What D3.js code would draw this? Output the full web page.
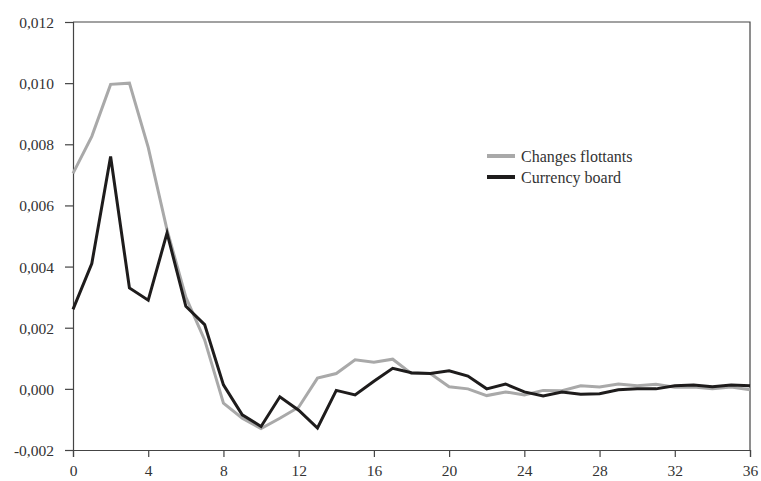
<!DOCTYPE html>
<html>
<head>
<meta charset="utf-8">
<script src="https://cdn.jsdelivr.net/npm/d3@7"></script>
<style>
  body { margin: 0; background: #fff; }
  text { font-family: "Liberation Serif", "DejaVu Serif", serif; font-size: 16px; fill: #333; }
</style>
</head>
<body>
<div id="svgContainer"></div>
<script>
// horizon (months) and responses
const horizon = d3.range(0, 37);
const flottants = [0.00705, 0.00826, 0.00996, 0.01, 0.0079, 0.0052, 0.0030, 0.0016, -0.00047, -0.00096,
    -0.0013, -0.00096, -0.0006, 0.00035, 0.0005, 0.00095, 0.00087, 0.00097, 0.0005, 0.0005,
    0.00007, 0.0, -0.00022, -0.0001, -0.0002, -0.00005, -0.00006, 0.0001, 0.00006, 0.00016,
    0.0001, 0.00015, 0.00005, 0.00006, 0.0, 0.00006, -0.00003];
const currencyBoard = [0.0026, 0.0041, 0.0076, 0.0033, 0.0029, 0.0051, 0.0027, 0.0021, 0.00013, -0.00085,
    -0.00123, -0.00026, -0.0007, -0.00128, -0.00005, -0.0002, 0.00025, 0.00067, 0.00053, 0.0005,
    0.00059, 0.00042, 0.0, 0.00016, -0.0001, -0.00023, -0.0001, -0.00018, -0.00016, -0.00003,
    0.0, 0.0, 0.0001, 0.00013, 0.00007, 0.00013, 0.0001];
const seriesNames = ["Changes flottants", "Currency board"];
const seriesColors = ["#a9a9a9", "#1e1c1c"];
const xTicks = [0, 4, 8, 12, 16, 20, 24, 28, 32, 36];
const yTicks = [-0.002, 0, 0.002, 0.004, 0.006, 0.008, 0.010, 0.012];

const width = 761, height = 481;
const margin = {top: 22, right: 11, bottom: 31, left: 73};

let svg = d3.select("#svgContainer").append("svg")
    .attr("width", width)
    .attr("height", height);

let x = d3.scaleLinear().domain([0, 36]).range([margin.left, width - margin.right]);
let y = d3.scaleLinear().domain([-0.002, 0.012]).range([height - margin.bottom, margin.top]);

let fmt = d => d3.format(".3f")(d).replace("−", "-").replace(".", ",");

// frame: top and right borders
svg.append("path")
    .attr("d", `M${x(0)},${y(0.012)}H${x(36)}V${y(-0.002)}`)
    .attr("fill", "none")
    .attr("stroke", "#444")
    .attr("stroke-width", 1.2);

let yAxis = svg.append("g")
    .attr("transform", `translate(${margin.left},0)`)
    .call(d3.axisLeft(y).tickValues(yTicks).tickFormat(fmt).tickSize(8).tickPadding(11));

let xAxis = svg.append("g")
    .attr("transform", `translate(0,${height - margin.bottom})`)
    .call(d3.axisBottom(x).tickValues(xTicks).tickSize(7).tickPadding(8));

[xAxis, yAxis].forEach(g => {
    g.select(".domain").attr("stroke", "#444").attr("stroke-width", 1.2);
    g.selectAll(".tick line").attr("stroke", "#444").attr("stroke-width", 1.2);
    g.selectAll("text")
        .style("font-family", '"Liberation Serif", "DejaVu Serif", serif')
        .style("font-size", "15.5px")
        .attr("fill", "#333");
});
yAxis.selectAll("text").attr("dy", "0.35em");

let line = d3.line()
    .x((d, i) => x(horizon[i]))
    .y(d => y(d));

[flottants, currencyBoard].forEach((values, k) => {
    svg.append("path")
        .datum(values)
        .attr("d", line)
        .attr("fill", "none")
        .attr("stroke", seriesColors[k])
        .attr("stroke-width", 3)
        .attr("stroke-linejoin", "miter");
});

// legend
let legend = svg.append("g").attr("transform", "translate(487,156)");
seriesNames.forEach((name, k) => {
    legend.append("line")
        .attr("x1", 0).attr("x2", 28)
        .attr("y1", k * 21).attr("y2", k * 21)
        .attr("stroke", seriesColors[k])
        .attr("stroke-width", 4);
    legend.append("text")
        .attr("x", 34)
        .attr("y", k * 21)
        .attr("dy", "0.35em")
        .text(name);
});
</script>
</body>
</html>
